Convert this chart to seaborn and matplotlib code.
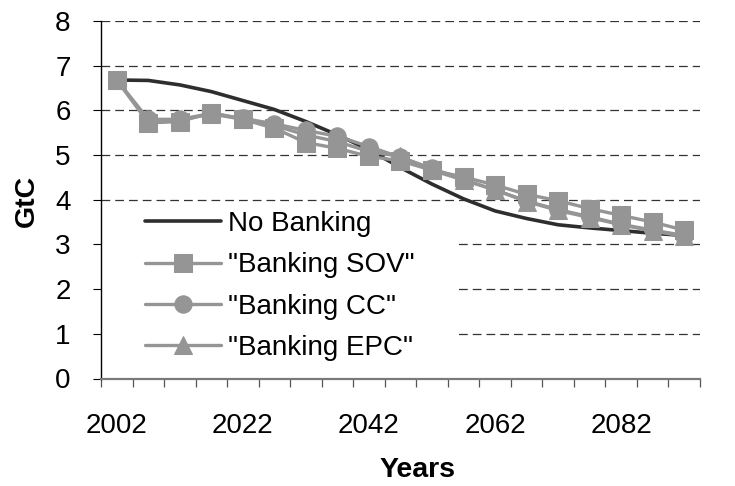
import matplotlib
matplotlib.use("Agg")
import matplotlib.pyplot as plt
from matplotlib.patches import Rectangle
from matplotlib.ticker import FixedLocator
import seaborn as sns

# Data -------------------------------------------------------------------------
years = [2002, 2007, 2012, 2017, 2022, 2027, 2032, 2037, 2042, 2047,
         2052, 2057, 2062, 2067, 2072, 2077, 2082, 2087, 2092]
no_banking = [6.68, 6.67, 6.57, 6.42, 6.22, 6.02, 5.75, 5.45, 5.12, 4.72,
              4.35, 4.02, 3.75, 3.58, 3.44, 3.37, 3.31, 3.25, 3.20]
banking_sov = [6.68, 5.72, 5.75, 5.95, 5.80, 5.60, 5.28, 5.15, 4.97, 4.87,
               4.66, 4.51, 4.33, 4.12, 3.98, 3.80, 3.65, 3.50, 3.32]
banking_cc = [6.68, 5.80, 5.80, 5.93, 5.82, 5.70, 5.55, 5.42, 5.19, 4.95,
              4.70, 4.45, 4.22, 3.97, 3.78, 3.62, 3.45, 3.32, 3.20]
banking_epc = [6.68, 5.78, 5.78, 5.92, 5.80, 5.66, 5.45, 5.30, 5.08, 4.97,
               4.66, 4.44, 4.22, 3.96, 3.76, 3.60, 3.44, 3.30, 3.18]
labelled_years = [2002, 2022, 2042, 2062, 2082]

series = [
    ("No Banking", no_banking, "#2e2e2e", None, 2.6),
    ('"Banking SOV"', banking_sov, "#959595", "s", 2.4),
    ('"Banking CC"', banking_cc, "#959595", "o", 2.4),
    ('"Banking EPC"', banking_epc, "#959595", "^", 2.4),
]

sns.set_style("white")
plt.rcParams["font.family"] = ["Liberation Sans", "DejaVu Sans"]
plt.rcParams["text.color"] = "black"
plt.rcParams["axes.labelcolor"] = "black"
plt.rcParams["xtick.color"] = "black"
plt.rcParams["ytick.color"] = "black"

fig, ax = plt.subplots(figsize=(7.35, 4.86), dpi=100)
fig.subplots_adjust(left=101 / 735, right=700 / 735,
                    bottom=1 - 378.5 / 486, top=1 - 21 / 486)

# categories are placed at 0..n-1 like a category axis
pos = list(range(len(years)))

for label, values, color, marker, lw in series:
    sns.lineplot(x=pos, y=values, ax=ax, color=color, lw=lw, label=label,
                 marker=marker, markersize=12.5 if marker != "^" else 13.5,
                 markeredgecolor=color, markerfacecolor=color, zorder=3)

# Axes ---------------------------------------------------------------------------
ax.set_xlim(-0.5, len(years) - 0.5)
ax.set_ylim(0, 8)
ax.set_yticks(range(0, 9))
ax.yaxis.grid(True, color="#333333", linestyle=(0, (7, 4)), lw=0.9)
ax.set_axisbelow(True)

label_pos = [years.index(y) for y in labelled_years]
ax.set_xticks(label_pos)
ax.set_xticklabels([str(y) for y in labelled_years])
ax.xaxis.set_minor_locator(FixedLocator([p - 0.5 for p in pos] + [pos[-1] + 0.5]))
ax.tick_params(axis="x", which="major", length=0, pad=25, labelsize=20)
ax.tick_params(axis="x", which="minor", direction="out", length=5.5,
               width=0.9, color="#555555", bottom=True)
ax.tick_params(axis="y", direction="out", length=5.8, width=0.8,
               color="black", pad=16, labelsize=20, left=True)

for side in ["top", "right"]:
    ax.spines[side].set_visible(False)
ax.spines["left"].set_color("black")
ax.spines["left"].set_linewidth(1.0)
ax.spines["bottom"].set_color("#7a7a7a")
ax.spines["bottom"].set_linewidth(1.6)

ax.set_xlabel("Years", fontsize=20.5, fontweight="bold")
ax.set_ylabel("GtC", fontsize=20.5, fontweight="bold")
ax.xaxis.set_label_coords((417 - 101) / 599, (378.5 - 457) / 357.5)
ax.yaxis.set_label_coords((40 - 101) / 599, (378.5 - 201) / 357.5)

# white block behind the legend, hiding the grid there
ax.add_patch(Rectangle((0.002, 0.03), (455 - 101) / 599, 0.45,
                       transform=ax.transAxes, facecolor="white",
                       edgecolor="none", zorder=1.5))

leg = ax.legend(loc="upper left", bbox_to_anchor=(145 / 735, 1 - 211 / 486),
                bbox_transform=fig.transFigure, frameon=False, fontsize=20,
                handlelength=2.75, handletextpad=0.22, labelspacing=0.55,
                borderpad=0, borderaxespad=0)

fig.savefig("out.png", dpi=100)
